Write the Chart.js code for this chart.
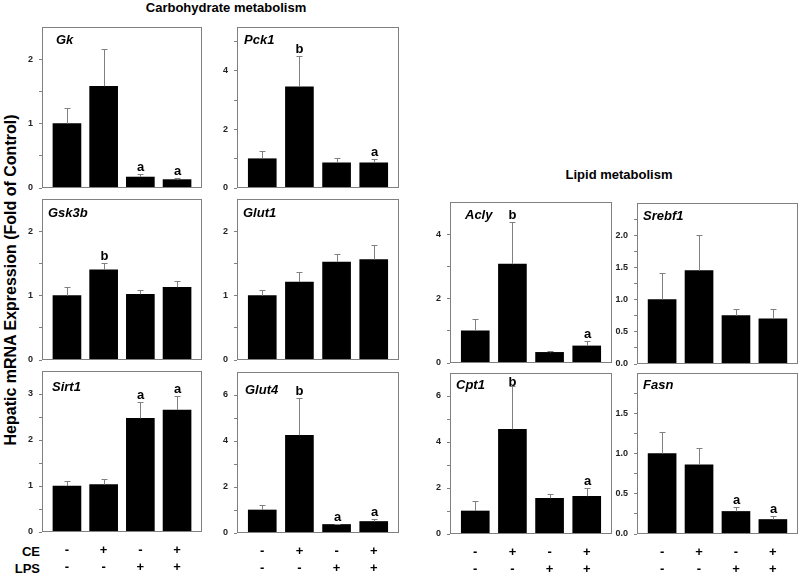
<!DOCTYPE html>
<html>
<head>
<meta charset="utf-8">
<script src="https://cdn.jsdelivr.net/npm/chart.js@4.4.1/dist/chart.umd.min.js"></script>
<style>
  body { margin: 0; background: #fff; }
  #wrap { position: relative; width: 800px; height: 576px; overflow: hidden; font-family: "Liberation Sans", Arial, sans-serif; }
  #wrap canvas { position: absolute; left: 0; top: 0; }
  .txt { position: absolute; font-weight: bold; color: #000; white-space: nowrap; line-height: 1; }
</style>
</head>
<body>
<div id="wrap">
  <div class="txt" style="left:226px; top:1px; font-size:13px; transform:translateX(-50%);">Carbohydrate metabolism</div>
  <div class="txt" style="left:619px; top:168px; font-size:13px; transform:translateX(-50%);">Lipid metabolism</div>
  <div class="txt" style="left:11px; top:280px; font-size:16px; transform:translate(-50%,-50%) rotate(-90deg);">Hepatic mRNA Expression (Fold of Control)</div>
  <div class="txt" style="right:760px; top:545px; font-size:13px;">CE</div>
  <div class="txt" style="right:760px; top:562px; font-size:13px;">LPS</div>
</div>
<script>
// x 방향 그룹 라벨
const ceLabels = ["-", "+", "-", "+"];
const lpsLabels = ["-", "-", "+", "+"];

// 유전자별 평균 / 오차 상단 / 유의성 표시
const gkMean = [1.0, 1.58, 0.17, 0.13];
const gkErr = [1.24, 2.16, 0.22, 0.15];
const gkSig = ["", "", "a", "a"];
const gkTicks = [0, 0.5, 1, 1.5, 2];

const pck1Mean = [1.0, 3.46, 0.86, 0.86];
const pck1Err = [1.26, 4.51, 1.03, 0.99];
const pck1Sig = ["", "b", "", "a"];
const pck1Ticks = [0, 1, 2, 3, 4, 5];

const gsk3bMean = [1.0, 1.40, 1.02, 1.13];
const gsk3bErr = [1.13, 1.50, 1.09, 1.23];
const gsk3bSig = ["", "b", "", ""];
const gsk3bTicks = [0, 0.5, 1, 1.5, 2];

const glut1Mean = [1.0, 1.21, 1.52, 1.56];
const glut1Err = [1.09, 1.37, 1.64, 1.78];
const glut1Sig = ["", "", "", ""];
const glut1Ticks = [0, 0.5, 1, 1.5, 2];

const sirt1Mean = [1.0, 1.03, 2.47, 2.65];
const sirt1Err = [1.10, 1.16, 2.83, 2.96];
const sirt1Sig = ["", "", "a", "a"];
const sirt1Ticks = [0, 0.5, 1, 1.5, 2, 2.5, 3];

const glut4Mean = [1.0, 4.25, 0.37, 0.50];
const glut4Err = [1.23, 5.85, 0.41, 0.62];
const glut4Sig = ["", "b", "a", "a"];
const glut4Ticks = [0, 1, 2, 3, 4, 5, 6];

const aclyMean = [1.0, 3.07, 0.33, 0.53];
const aclyErr = [1.38, 4.38, 0.38, 0.68];
const aclySig = ["", "b", "", "a"];
const aclyTicks = [0, 1, 2, 3, 4];

const srebf1Mean = [1.0, 1.45, 0.75, 0.70];
const srebf1Err = [1.42, 2.0, 0.85, 0.85];
const srebf1Sig = ["", "", "", ""];
const srebf1Ticks = [0, 0.25, 0.5, 0.75, 1, 1.25, 1.5, 1.75, 2, 2.25];

const cpt1Mean = [1.0, 4.55, 1.55, 1.64];
const cpt1Err = [1.45, 6.45, 1.73, 2.01];
const cpt1Sig = ["", "b", "", "a"];
const cpt1Ticks = [0, 1, 2, 3, 4, 5, 6];

const fasnMean = [1.0, 0.86, 0.28, 0.18];
const fasnErr = [1.27, 1.07, 0.33, 0.22];
const fasnSig = ["", "", "a", "a"];
const fasnTicks = [0, 0.25, 0.5, 0.75, 1, 1.25, 1.5, 1.75];

const AXIS_W = 30;
const X_H = 45;

// 패널 배치 (box = 좌, 상, 우, 하)
const panels = [
  { name: "Gk", mean: gkMean, err: gkErr, sig: gkSig, ticks: gkTicks, major: 1, dec: 0, max: 2.5, box: [42, 27, 202, 188], lab: [14, 13], bottom: false },
  { name: "Pck1", mean: pck1Mean, err: pck1Err, sig: pck1Sig, ticks: pck1Ticks, major: 2, dec: 0, max: 5.5, box: [237, 27, 399, 188], lab: [7, 13], bottom: false },
  { name: "Gsk3b", mean: gsk3bMean, err: gsk3bErr, sig: gsk3bSig, ticks: gsk3bTicks, major: 1, dec: 0, max: 2.5, box: [42, 199, 202, 360], lab: [6, 14], bottom: false },
  { name: "Glut1", mean: glut1Mean, err: glut1Err, sig: glut1Sig, ticks: glut1Ticks, major: 1, dec: 0, max: 2.5, box: [237, 199, 399, 360], lab: [6, 14], bottom: false },
  { name: "Sirt1", mean: sirt1Mean, err: sirt1Err, sig: sirt1Sig, ticks: sirt1Ticks, major: 1, dec: 0, max: 3.5, box: [42, 371, 202, 532], lab: [10, 16], bottom: true },
  { name: "Glut4", mean: glut4Mean, err: glut4Err, sig: glut4Sig, ticks: glut4Ticks, major: 2, dec: 0, max: 7, box: [237, 372, 399, 533], lab: [8, 18], bottom: true },
  { name: "Acly", mean: aclyMean, err: aclyErr, sig: aclySig, ticks: aclyTicks, major: 2, dec: 0, max: 5, box: [450, 202, 612, 363], lab: [15, 13], bottom: false },
  { name: "Srebf1", mean: srebf1Mean, err: srebf1Err, sig: srebf1Sig, ticks: srebf1Ticks, major: 0.5, dec: 1, max: 2.5, box: [637, 203, 798, 364], lab: [6, 13], bottom: false },
  { name: "Cpt1", mean: cpt1Mean, err: cpt1Err, sig: cpt1Sig, ticks: cpt1Ticks, major: 2, dec: 0, max: 7, box: [450, 373, 612, 534], lab: [6, 12], bottom: true },
  { name: "Fasn", mean: fasnMean, err: fasnErr, sig: fasnSig, ticks: fasnTicks, major: 0.5, dec: 1, max: 2, box: [637, 373, 798, 534], lab: [6, 12], bottom: true },
];

// 오차 막대, 유의성 문자, 패널 이름, 테두리
const panelDecor = {
  id: "panelDecor",
  afterDatasetsDraw(chart) {
    const p = chart.config.options.plugins.panelDecor.panel;
    const ctx = chart.ctx;
    const xs = chart.scales.x;
    const ys = chart.scales.y;
    const area = chart.chartArea;
    ctx.save();
    ctx.strokeStyle = "#808080";
    ctx.lineWidth = 1;
    p.mean.forEach((v, i) => {
      const x = Math.round(xs.getPixelForValue(i)) + 0.5;
      const yb = ys.getPixelForValue(v);
      const yt = Math.round(ys.getPixelForValue(p.err[i])) + 0.5;
      ctx.beginPath();
      ctx.moveTo(x, yb);
      ctx.lineTo(x, yt);
      ctx.moveTo(x - 3, yt);
      ctx.lineTo(x + 3, yt);
      ctx.stroke();
      if (p.sig[i]) {
        ctx.fillStyle = "#000";
        ctx.font = "bold 13px 'Liberation Sans', Arial, sans-serif";
        ctx.textAlign = "center";
        ctx.textBaseline = "alphabetic";
        ctx.fillText(p.sig[i], x, Math.max(yt - 4, area.top + 13));
      }
    });
    ctx.strokeRect(area.left + 0.5, area.top + 0.5, area.right - area.left - 1, area.bottom - area.top - 1);
    ctx.fillStyle = "#000";
    ctx.font = "italic bold 13px 'Liberation Sans', Arial, sans-serif";
    ctx.textAlign = "left";
    ctx.textBaseline = "middle";
    ctx.fillText(p.name, area.left + p.lab[0], area.top + p.lab[1]);
    ctx.restore();
  },
};

const wrap = document.getElementById("wrap");

panels.forEach((p) => {
  const canvas = document.createElement("canvas");
  canvas.width = 800;
  canvas.height = 576;
  wrap.appendChild(canvas);

  const [bl, bt, br, bb] = p.box;

  new Chart(canvas, {
    type: "bar",
    data: {
      datasets: [
        {
          data: p.mean.map((v, i) => ({ x: i, y: v })),
          backgroundColor: "#000",
          borderWidth: 0,
          barThickness: 28,
        },
      ],
    },
    options: {
      responsive: false,
      animation: false,
      devicePixelRatio: 1,
      layout: {
        padding: {
          left: bl - AXIS_W,
          top: bt,
          right: 800 - br,
          bottom: 576 - bb - (p.bottom ? X_H : 0),
        },
      },
      plugins: {
        legend: { display: false },
        tooltip: { enabled: false },
        panelDecor: { panel: p },
      },
      scales: {
        x: {
          type: "linear",
          offset: false,
          min: -0.68,
          max: 3.68,
          display: p.bottom,
          grid: { display: false, drawTicks: false, offset: false },
          border: { display: false },
          afterBuildTicks: (s) => {
            s.ticks = ceLabels.map((_, i) => ({ value: i }));
          },
          afterFit: (s) => {
            if (p.bottom) s.height = X_H;
          },
          ticks: {
            autoSkip: false,
            maxRotation: 0,
            padding: 10,
            color: "#000",
            font: { size: 13, weight: "bold", lineHeight: 1.3 },
            callback: (v) => [ceLabels[v], lpsLabels[v]],
          },
        },
        y: {
          min: 0,
          max: p.max,
          afterBuildTicks: (s) => {
            s.ticks = p.ticks.map((v) => ({ value: v }));
          },
          afterFit: (s) => {
            s.width = AXIS_W;
          },
          grid: { drawOnChartArea: false, drawTicks: true, tickLength: 3, color: "#808080" },
          border: { display: false },
          ticks: {
            autoSkip: false,
            padding: 6,
            color: "#222",
            font: { size: 9, weight: "bold" },
            callback: (v) => {
              const r = v / p.major;
              return Math.abs(r - Math.round(r)) < 1e-6 ? v.toFixed(p.dec) : "";
            },
          },
        },
      },
    },
    plugins: [panelDecor],
  });
});
</script>
</body>
</html>
